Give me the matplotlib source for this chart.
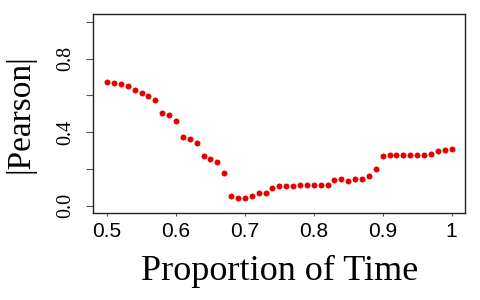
import matplotlib
matplotlib.use("Agg")
import matplotlib.pyplot as plt
import numpy as np

proportion = [0.50, 0.51, 0.52, 0.53, 0.54, 0.55, 0.56, 0.57, 0.58, 0.59,
              0.60, 0.61, 0.62, 0.63, 0.64, 0.65, 0.66, 0.67, 0.68, 0.69,
              0.70, 0.71, 0.72, 0.73, 0.74, 0.75, 0.76, 0.77, 0.78, 0.79,
              0.80, 0.81, 0.82, 0.83, 0.84, 0.85, 0.86, 0.87, 0.88, 0.89,
              0.90, 0.91, 0.92, 0.93, 0.94, 0.95, 0.96, 0.97, 0.98, 0.99, 1.00]
pearson_abs = [0.672, 0.669, 0.663, 0.649, 0.629, 0.615, 0.595, 0.574, 0.504, 0.495,
               0.461, 0.376, 0.364, 0.341, 0.271, 0.256, 0.240, 0.181, 0.056, 0.043,
               0.043, 0.052, 0.071, 0.068, 0.100, 0.106, 0.106, 0.108, 0.111, 0.111,
               0.113, 0.115, 0.115, 0.142, 0.145, 0.137, 0.144, 0.145, 0.160, 0.203,
               0.273, 0.276, 0.278, 0.278, 0.278, 0.278, 0.278, 0.282, 0.299, 0.305, 0.310]

x_ticks = [0.5, 0.6, 0.7, 0.8, 0.9, 1.0]
x_tick_labels = ["0.5", "0.6", "0.7", "0.8", "0.9", "1"]
y_ticks = [0.0, 0.2, 0.4, 0.6, 0.8, 1.0]
y_tick_labels = ["0.0", "", "0.4", "", "0.8", ""]

fig = plt.figure(figsize=(4.8, 3.0), dpi=100)
ax = fig.add_axes([0.1944, 0.289, 0.775, 0.663])

ax.plot(proportion, pearson_abs, linestyle="none", marker="o",
        markersize=4.3, color="#e60000", markeredgewidth=0)

ax.set_xlim(0.48, 1.02)
ax.set_ylim(-0.04, 1.04)

ax.set_xticks(x_ticks)
ax.set_xticklabels(x_tick_labels, family="Liberation Sans", fontsize=15)
ax.set_yticks(y_ticks)
ax.set_yticklabels(y_tick_labels, family="Liberation Serif", fontsize=14.5,
                   rotation=90, va="center")

ax.tick_params(axis="x", length=2, width=0.8, color="#555555", pad=4)
ax.tick_params(axis="y", length=5, width=0.8, color="#555555", pad=8)

for s in ax.spines.values():
    s.set_linewidth(1.0)
    s.set_color("#222222")

ax.set_xlabel("Proportion of Time", family="Liberation Serif", fontsize=26, labelpad=10)
ax.set_ylabel("|Pearson|", family="Liberation Serif", fontsize=24, labelpad=15)

fig.savefig("out.png", dpi=100)
